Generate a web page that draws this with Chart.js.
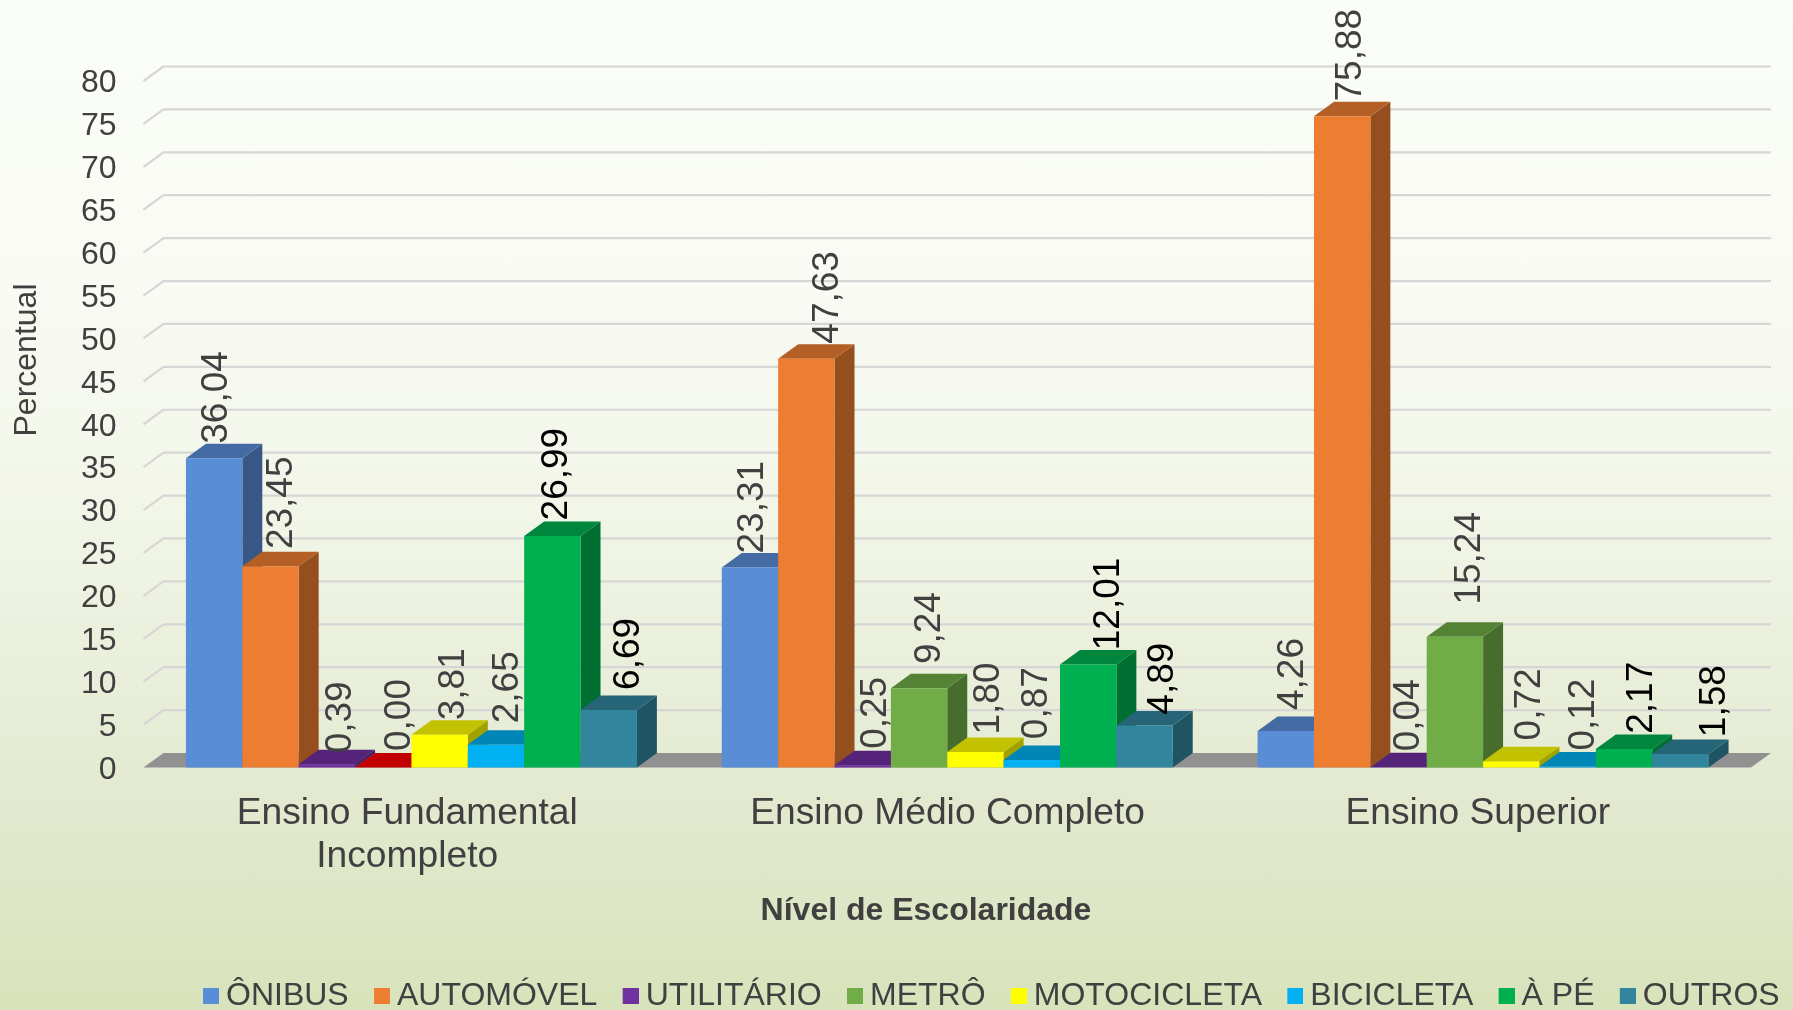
<!DOCTYPE html>
<html lang="pt-BR">
<head>
<meta charset="utf-8">
<title>Percentual por nível de escolaridade</title>
<script src="https://cdn.jsdelivr.net/npm/chart.js@4"></script>
<style>
  html, body { margin: 0; padding: 0; width: 1793px; height: 1010px; overflow: hidden; }
  body { background: linear-gradient(180deg, #fbfdf8 0%, #f8faf3 30%, #f2f6e8 50%, #e2e9cf 80%, #d8e3bb 100%); }
  canvas { display: block; }
</style>
</head>
<body>
<canvas id="c" width="1793" height="1010"></canvas>
<script>
const categories = [["Ensino Fundamental", "Incompleto"], "Ensino Médio Completo", "Ensino Superior"];
const yTitle = "Percentual";
const xTitle = "Nível de Escolaridade";

const seriesNames = ["ÔNIBUS", "AUTOMÓVEL", "UTILITÁRIO", "METRÔ", "MOTOCICLETA", "BICICLETA", "À PÉ", "OUTROS"];
const onibus     = [36.04, 23.31, 4.26];
const automovel  = [23.45, 47.63, 75.88];
const utilitario = [0.39, 0.25, 0.04];
const metro      = [0.00, 9.24, 15.24];
const motocicleta = [3.81, 1.80, 0.72];
const bicicleta  = [2.65, 0.87, 0.12];
const aPe        = [26.99, 12.01, 2.17];
const outros     = [6.69, 4.89, 1.58];
const seriesValues = [onibus, automovel, utilitario, metro, motocicleta, bicicleta, aPe, outros];

const seriesColors = ["#598DD6", "#ED7D31", "#7030A0", "#70AD47", "#FFFF00", "#00B0F0", "#00B050", "#31859C"];
const metroZeroColor = "#FF0000";
const labelColors = ["#404040", "#404040", "#404040", "#404040", "#404040", "#404040", "#000000", "#000000"];

// Hand-placed offsets of the original: label shift and gap above the bar, per series and group; category label shift.
const labelShift = [[1,1,4.8],[9,19,7],[12,11.6,8],[15,8.6,13.3],[12.5,11.5,16.2],[10,3.3,14.5],[2,19,15.8],[18.5,16.5,32.4]];
const labelGap = [[2,1.5,8.4],[4.7,2.6,2.4],[-1.7,4,3.4],[4,11.6,19.6],[2,5,8.4],[9,8.4,3.4],[3,1.7,2.6],[7.7,-1.6,4.3]];
const categoryShift = [-4.2, 0.4, -5.3];

const DX = 20, DY = 14.5;
const TEXT = "#404040";
const FONT = "'Liberation Sans', Arial, sans-serif";

function shade(hex, k) {
  const n = parseInt(hex.slice(1), 16);
  const c = [(n >> 16) & 255, (n >> 8) & 255, n & 255].map(v => Math.round(v * k));
  return `rgb(${c[0]},${c[1]},${c[2]})`;
}
function swatch(color) {
  const s = document.createElement("canvas");
  s.width = 19; s.height = 16;
  const x = s.getContext("2d");
  x.fillStyle = color; x.fillRect(3, 0, 16, 16);
  return s;
}
function poly(ctx, pts, color) {
  ctx.fillStyle = color;
  ctx.beginPath();
  pts.forEach((p, i) => i ? ctx.lineTo(p[0], p[1]) : ctx.moveTo(p[0], p[1]));
  ctx.closePath();
  ctx.fill();
}

const scene3d = {
  id: "scene3d",
  beforeDraw(chart) {
    const lg = chart.legend;
    lg.right = 1811;
    lg.top = 948.4;
    lg.bottom = 1010;
    const xs = chart.scales.x;
    xs.getLabelItems(chart.chartArea).forEach((item, i) => {
      item.options.translation[0] += categoryShift[i];
    });
  },
  beforeDatasetsDraw(chart) {
    const ctx = chart.ctx, y = chart.scales.y, a = chart.chartArea;
    ctx.save();
    // back wall grid
    ctx.strokeStyle = "#d6d6d6"; ctx.lineWidth = 2.2; ctx.lineJoin = "round";
    y.ticks.forEach(t => {
      if (t.value === 0) return;
      const py = y.getPixelForValue(t.value);
      ctx.beginPath();
      ctx.moveTo(a.left, py);
      ctx.lineTo(a.left + DX, py - DY);
      ctx.lineTo(a.right + DX, py - DY);
      ctx.stroke();
    });
    // floor
    const y0 = y.getPixelForValue(0);
    poly(ctx, [[a.left, y0], [a.right, y0], [a.right + DX, y0 - DY], [a.left + DX, y0 - DY]], "#919191");
    // bars, left to right, so each one covers the side of the previous one
    chart.data.datasets.forEach((ds, i) => {
      const meta = chart.getDatasetMeta(i);
      meta.data.forEach((bar, j) => {
        const c = Array.isArray(ds.backgroundColor) ? ds.backgroundColor[j] : ds.backgroundColor;
        const L = bar.x - bar.width / 2, R = bar.x + bar.width / 2, T = bar.y, B = bar.base;
        poly(ctx, [[R, B], [R + DX, B - DY], [R + DX, T - DY], [R, T]], shade(c, 0.63));
        poly(ctx, [[L, T], [R, T], [R + DX, T - DY], [L + DX, T - DY]], shade(c, 0.76));
      });
      meta.controller.draw();
      meta.data.forEach((bar, j) => {
        const text = ds.data[j].toFixed(2).replace(".", ",");
        ctx.save();
        ctx.translate(bar.x + labelShift[i][j], bar.y - DY - labelGap[i][j] + 2);
        ctx.rotate(-Math.PI / 2);
        ctx.font = `37px ${FONT}`;
        ctx.fillStyle = labelColors[i];
        ctx.textAlign = "left";
        ctx.textBaseline = "middle";
        ctx.fillText(text, 0, 2);
        ctx.restore();
      });
    });
    ctx.restore();
    return false;
  },
  afterDraw(chart) {
    const ctx = chart.ctx;
    ctx.save();
    ctx.fillStyle = TEXT;
    ctx.textAlign = "center";
    ctx.textBaseline = "middle";
    ctx.font = `bold 32px ${FONT}`;
    ctx.fillText(xTitle, 926, 911);
    ctx.translate(27, 360);
    ctx.rotate(-Math.PI / 2);
    ctx.font = `32px ${FONT}`;
    ctx.fillText(yTitle, 0, 0);
    ctx.restore();
  }
};

new Chart(document.getElementById("c"), {
  type: "bar",
  data: {
    labels: categories,
    datasets: seriesNames.map((name, i) => ({
      label: name,
      data: seriesValues[i],
      backgroundColor: i === 3 ? [metroZeroColor, seriesColors[i], seriesColors[i]] : seriesColors[i],
      borderWidth: 0,
      barPercentage: 1,
      categoryPercentage: 0.8416
    }))
  },
  plugins: [scene3d],
  options: {
    responsive: false,
    animation: false,
    events: [],
    layout: { padding: { top: 81, right: 42, bottom: 0, left: 0 } },
    plugins: {
      title: { display: false },
      tooltip: { enabled: false },
      legend: {
        display: true,
        position: "bottom",
        align: "end",
        labels: {
          color: TEXT,
          font: { family: FONT, size: 32 },
          usePointStyle: true,
          pointStyleWidth: 1,
          boxHeight: 16,
          padding: 31.3,
          generateLabels: () => seriesNames.map((name, i) => ({
            text: name, datasetIndex: i, hidden: false, lineWidth: 0,
            fillStyle: seriesColors[i], strokeStyle: seriesColors[i],
            fontColor: TEXT, pointStyle: swatch(seriesColors[i])
          }))
        }
      }
    },
    scales: {
      x: {
        grid: { display: false, drawTicks: false },
        border: { display: false },
        ticks: {
          color: TEXT, autoSkip: false, maxRotation: 0, minRotation: 0, padding: 24,
          font: { family: FONT, size: 37.2, lineHeight: 1.17 }
        },
        afterFit(s) {
          // pin the plot's floor: everything between it and the legend belongs to this axis
          s.height = 1010 - 767.5 - s.chart.legend.height;
        }
      },
      y: {
        min: 0, max: 80,
        grid: { display: false, drawTicks: false },
        border: { display: false },
        ticks: {
          color: TEXT, stepSize: 5, padding: 27, labelOffset: 2.5,
          font: { family: FONT, size: 32 }
        },
        afterFit(s) { s.width = 143.5; }
      }
    }
  }
});
</script>
</body>
</html>
